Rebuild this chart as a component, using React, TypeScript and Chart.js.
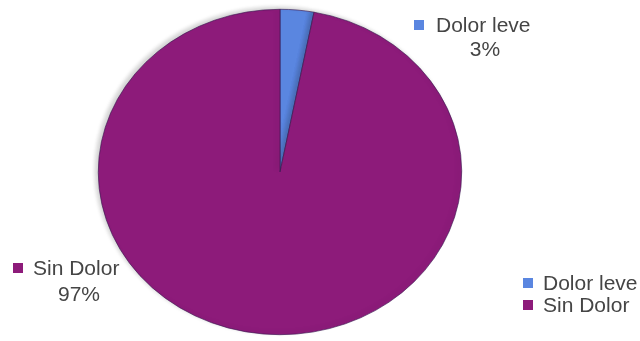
import React, { useEffect, useRef } from "react";
import { Chart, registerables } from "chart.js";

Chart.register(...registerables);

const categories = ["Dolor leve", "Sin Dolor"];
const values = [3, 97];
const percentLabels = ["3%", "97%"];
const colors = ["#5a86e0", "#8d1b7a"];

const FONT = "21px 'Liberation Sans', Arial, sans-serif";
const TEXT_COLOR = "#454545";
const X_STRETCH = 1.117;

const stretchPlugin = {
  id: "stretch",
  beforeDatasetsDraw(chart: any) {
    const { ctx, chartArea } = chart;
    const cx = (chartArea.left + chartArea.right) / 2;
    const cy = (chartArea.top + chartArea.bottom) / 2;
    ctx.save();
    ctx.translate(cx, cy);
    ctx.scale(X_STRETCH, 1);
    ctx.translate(-cx, -cy);
    ctx.shadowColor = "rgba(0,0,0,0.18)";
    ctx.shadowOffsetX = -3;
    ctx.shadowOffsetY = -2;
    ctx.shadowBlur = 4;
  },
  afterDatasetsDraw(chart: any) {
    chart.ctx.restore();
  },
};

// label anchor positions (annotation text, not marks)
const labelPos = [
  { sq: [414, 20], text: [436, 32], pct: [485, 56] },
  { sq: [13, 263], text: [33, 275], pct: [79, 301] },
];
const legendPos = { x: 523, y: 278, textX: 543, step: 22 };

const labelsPlugin = {
  id: "customLabels",
  afterDraw(chart: any) {
    const { ctx } = chart;
    ctx.save();
    ctx.font = FONT;
    ctx.textBaseline = "alphabetic";
    categories.forEach((c, i) => {
      const p = labelPos[i];
      ctx.fillStyle = colors[i];
      ctx.fillRect(p.sq[0], p.sq[1], 10, 10);
      ctx.fillStyle = TEXT_COLOR;
      ctx.textAlign = "left";
      ctx.fillText(c, p.text[0], p.text[1]);
      ctx.textAlign = "center";
      ctx.fillText(percentLabels[i], p.pct[0], p.pct[1]);
    });
    categories.forEach((c, i) => {
      const y = legendPos.y + i * legendPos.step;
      ctx.fillStyle = colors[i];
      ctx.fillRect(legendPos.x, y, 10, 10);
      ctx.fillStyle = TEXT_COLOR;
      ctx.textAlign = "left";
      ctx.fillText(c, legendPos.textX, y + 12);
    });
    ctx.restore();
  },
};

export default function App() {
  const ref = useRef<HTMLCanvasElement | null>(null);
  useEffect(() => {
    if (!ref.current) return;
    const chart = new Chart(ref.current, {
      type: "pie",
      data: {
        labels: categories,
        datasets: [
          {
            data: values,
            backgroundColor: colors,
            borderColor: "#3b1850",
            borderWidth: 0.6,
            clip: false as any,
          },
        ],
      },
      options: {
        animation: false,
        responsive: true,
        maintainAspectRatio: false,
        layout: { padding: { top: 9, bottom: 6, left: 117, right: 197 } },
        plugins: {
          legend: { display: false },
          tooltip: { enabled: false },
        },
      },
      plugins: [stretchPlugin, labelsPlugin],
    });
    return () => chart.destroy();
  }, []);
  return (
    <div
      style={{
        position: "fixed",
        left: 0,
        top: 0,
        width: 640,
        height: 341,
        background: "#fff",
      }}
    >
      <canvas ref={ref} />
    </div>
  );
}
